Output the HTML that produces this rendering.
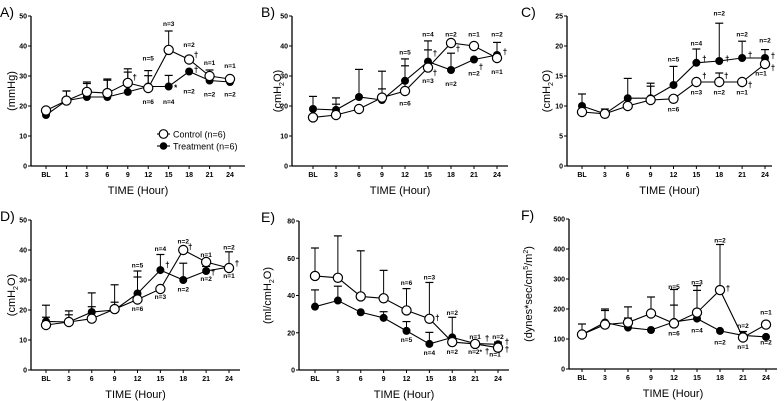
<!DOCTYPE html>
<html><head><meta charset="utf-8"><style>
html,body{margin:0;padding:0;background:#fff}
svg{display:block;font-family:"Liberation Sans",Arial,sans-serif}
</style></head><body>
<svg id="chart" width="784" height="401" viewBox="0 0 784 401" xmlns="http://www.w3.org/2000/svg"></svg>
<script>
// ---- data ----
const catsA = ['BL','1','3','6','9','12','15','18','21','24'];
const cats = ['BL','3','6','9','12','15','18','21','24'];

const aCtl = [18.5,21.8,24.7,24.3,27.7,26,38.7,35.5,30,29];
const aTrt = [17,21.8,23,23,24.7,26.5,26.5,31.5,28.5,28];
const aCtlErr = [19,25,28,29,32.4,31.8,45,36.5,32,29.5];
const aTrtErr = [null,25,27.5,28.6,31.3,30.1,30.2,null,null,null];

const bCtl = [16.2,17,19,22.8,25,32.8,41,40,36];
const bTrt = [19,18.7,23,22,28.4,34.8,32,35.5,37];
const bCtlErr = [null,20.6,null,25.7,33.4,38.7,null,null,null];
const bTrtErr = [23.2,22.7,32.2,31.6,35.7,41.7,37.6,null,41.2];

const cCtl = [9,8.7,10,11,11.2,14,14,14,17];
const cTrt = [10,8.7,11.3,11.3,13.5,17.2,17.5,18,18];
const cCtlErr = [null,null,null,13.3,null,null,15.5,null,null];
const cTrtErr = [12,9.5,14.6,13.8,16.6,19.5,23.8,20.8,19.4];

const dCtl = [15,16,17.1,20.3,23.5,27,40,36,34];
const dTrt = [16.2,16,19.3,20,25.5,33.3,30,33,34.3];
const dCtlErr = [21.6,18.4,21.1,28.4,31,null,null,null,null];
const dTrtErr = [17.6,19.7,25.7,22.6,33,38.5,35.6,34.5,39.4];

const eCtl = [50.5,49.5,39.5,38.5,32,27.5,15,14,12];
const eTrt = [34,37.3,31,28,21,14,17.5,14.2,13.8];
const eCtlErr = [65.5,72,64,53.5,43.7,47,null,null,null];
const eTrtErr = [43,45,null,31.3,26,20.2,28.3,15.5,15];

const fCtl = [115,148,155,185,152,188,263,105,148];
const fTrt = [115,155,138,130,157,168,127,112,107];
const fCtlErr = [150,200,207,240,265,278,415,null,null];
const fTrtErr = [null,195,170,null,213,262,null,125,null];

const ticksA = [0,10,20,30,40,50];
const ticksC = [0,5,10,15,20,25];
const ticksE = [0,20,40,60,80];
const ticksF = [0,100,200,300,400,500];

// annotations: [index, value, text, dx]
const annA = [[6,47.5,'n=3',0],[7,40.5,'n=2',0],[8,34.5,'n=1',0],[9,33.5,'n=1',0],[5,36,'n=5',0],[5,21.5,'n=6',0],[6,21.5,'n=4',0],[7,25,'n=2',0],[8,24,'n=2',0],[9,24,'n=2',0],[4,29.5,'†',7],[7,37,'†',7],[7,32,'†',7],[6,26,'*',7]];
const annB = [[5,44,'n=4',0],[6,44,'n=2',0],[7,44,'n=1',0],[8,44,'n=2',0],[4,38,'n=5',0],[4,21,'n=6',0],[5,28.5,'n=3',0],[6,27.5,'n=2',0],[7,31,'n=2',0],[8,31.5,'n=1',0],[5,37.5,'†',7],[5,31,'†',7],[6,39,'†',7],[7,33,'†',7],[8,38,'†',8]];
const annC = [[6,25.5,'n=2',0],[7,22,'n=2',0],[8,21,'n=2',0],[5,20.5,'n=4',0],[4,17.8,'n=5',0],[4,9.5,'n=6',0],[5,12.3,'n=3',0],[6,12.3,'n=2',0],[7,12.3,'n=1',0],[8,15.5,'n=1',-4],[5,17.8,'†',8],[5,15,'†',8],[6,17.8,'†',8],[6,15,'†',7],[7,18.5,'†',8],[7,13.5,'†',8],[8,18.3,'†',8],[8,16.3,'†',8]];
const annD = [[6,43,'n=2',0],[7,38.5,'n=1',0],[8,41,'n=2',0],[5,40.5,'n=4',0],[4,35,'n=5',0],[4,20.5,'n=6',0],[5,24.5,'n=3',0],[6,27,'n=2',0],[7,30.5,'n=2',0],[8,31.5,'n=1',0],[5,35,'†',7],[6,41,'†',7],[7,32.5,'†',7],[8,35.5,'†',8]];
const annE = [[4,47,'n=6',0],[5,50,'n=3',0],[6,31,'n=2',0],[7,18,'n=1',0],[8,18,'n=2',0],[4,16.5,'n=5',0],[5,9.5,'n=4',0],[6,10,'n=2',0],[7,10,'n=2*',0],[8,8.5,'n=1',-3],[5,28,'†',8],[7,17,'†',12],[7,10,'†',12],[8,15,'†',9],[8,11,'†',9]];
const annF = [[4,275,'n=5',0],[5,290,'n=3',0],[6,430,'n=2',0],[7,145,'n=2',0],[8,190,'n=1',0],[4,120,'n=6',0],[5,130,'n=4',0],[6,90,'n=2',0],[7,75,'n=1',0],[8,90,'n=2',0],[6,268,'†',8]];

const NS='http://www.w3.org/2000/svg';
const svg=document.getElementById('chart');
function mk(tag,attrs,parent){const e=document.createElementNS(NS,tag);for(const k in attrs)e.setAttribute(k,attrs[k]);(parent||svg).appendChild(e);return e;}

function panel(o){
  const g=mk('g',{});
  
  
  const ymax=o.ticks[o.ticks.length-1];
  const ys=v=>o.bottom-(v/ymax)*(o.bottom-o.top);
  const n=o.cats.length;
  const xs=i=>o.x0+i*(o.x1-o.x0)/(n-1);
  // axes
  const ya=mk('line',{x1:o.ax,y1:o.top,x2:o.ax,y2:o.bottom,stroke:'#000','stroke-width':1.3},g);
  
  
  const xa=mk('line',{x1:o.ax,y1:o.bottom,x2:o.axEnd,y2:o.bottom,stroke:'#000','stroke-width':1.3},g);
  
  
  o.ticks.forEach(t=>{
    mk('line',{x1:o.ax-3,y1:ys(t),x2:o.ax,y2:ys(t),stroke:'#000','stroke-width':1},g);
    const tl=mk('text',{x:o.ax-4,y:ys(t)+2.5,'font-size':7,'font-weight':'bold','text-anchor':'end'},g);
    tl.textContent=t;
    
    
  });
  o.cats.forEach((c,i)=>{
    mk('line',{x1:xs(i),y1:o.bottom,x2:xs(i),y2:o.bottom+3,stroke:'#000','stroke-width':1},g);
    const tl=mk('text',{x:xs(i),y:o.bottom+11,'font-size':7,'font-weight':'bold','text-anchor':'middle'},g);
    tl.textContent=c;
    
    
  });
  const xt=mk('text',{x:(o.ax+o.axEnd)/2,y:o.bottom+28,'font-size':11,'text-anchor':'middle'},g);
  xt.textContent='TIME (Hour)';
  
  
  const yt=mk('text',{x:0,y:0,'font-size':11,'text-anchor':'middle',transform:`translate(${o.ylx},${(o.top+o.bottom)/2}) rotate(-90)`},g);
  yt.innerHTML=o.ylab;
  
  
  const pl=mk('text',{x:o.lx,y:o.ly,'font-size':14},g);
  pl.textContent=o.letter+')';
  
  
  // error bars
  [[o.ctl,o.ce],[o.trt,o.te]].forEach(([v,e])=>{
    e.forEach((t,i)=>{ if(t==null) return;
      mk('line',{x1:xs(i),y1:ys(v[i]),x2:xs(i),y2:ys(t),stroke:'#000','stroke-width':1},g);
      const cap=mk('line',{x1:xs(i)-4,y1:ys(t),x2:xs(i)+4,y2:ys(t),stroke:'#000','stroke-width':1.2},g);
      
      
    });
  });
  // lines
  const tp=mk('polyline',{points:o.trt.map((v,i)=>xs(i)+','+ys(v)).join(' '),fill:'none',stroke:'#000','stroke-width':1.1},g);
  
  
  const cp=mk('polyline',{points:o.ctl.map((v,i)=>xs(i)+','+ys(v)).join(' '),fill:'none',stroke:'#000','stroke-width':1.1},g);
  
  
  o.trt.forEach((v,i)=>{
    const c=mk('circle',{cx:xs(i),cy:ys(v),r:4,fill:'#000'},g);
    
    
  });
  o.ctl.forEach((v,i)=>{
    const c=mk('circle',{cx:xs(i),cy:ys(v),r:4.6,fill:'#fff',stroke:'#000','stroke-width':1.2},g);
    
    
  });
  o.ann.forEach(([i,v,t,dx])=>{
    const a=mk('text',{x:xs(i)+dx,y:ys(v)+2.5,'font-size':t.length>1?6.5:8,'font-weight':'bold','text-anchor':'middle'},g);
    a.textContent=t;
    
    
  });
}

const sub='(cmH<tspan font-size="7" dy="3">2</tspan><tspan dy="-3">O)</tspan>';
panel({letter:'A',cats:catsA,ticks:ticksA,ax:31,axEnd:245,top:16,bottom:166,x0:46,x1:230,ylx:15,lx:0,ly:17,ylab:'(mmHg)',ctl:aCtl,trt:aTrt,ce:aCtlErr,te:aTrtErr,ann:annA});
panel({letter:'B',cats:cats,ticks:ticksA,ax:292,axEnd:508,top:16,bottom:166,x0:313,x1:497,ylx:281,lx:261,ly:17,ylab:sub,ctl:bCtl,trt:bTrt,ce:bCtlErr,te:bTrtErr,ann:annB});
panel({letter:'C',cats:cats,ticks:ticksC,ax:567,axEnd:772,top:16,bottom:166,x0:582,x1:765,ylx:550,lx:521,ly:17,ylab:sub,ctl:cCtl,trt:cTrt,ce:cCtlErr,te:cTrtErr,ann:annC});
panel({letter:'D',cats:cats,ticks:ticksA,ax:31,axEnd:240,top:220,bottom:370,x0:46,x1:229,ylx:15,lx:0,ly:221,ylab:sub,ctl:dCtl,trt:dTrt,ce:dCtlErr,te:dTrtErr,ann:annD});
panel({letter:'E',cats:cats,ticks:ticksE,ax:299,axEnd:509,top:221,bottom:370,x0:315,x1:498,ylx:271,lx:261,ly:222,ylab:'(ml/cmH<tspan font-size="7" dy="3">2</tspan><tspan dy="-3">O)</tspan>',ctl:eCtl,trt:eTrt,ce:eCtlErr,te:eTrtErr,ann:annE});
panel({letter:'F',cats:cats,ticks:ticksF,ax:569,axEnd:777,top:219,bottom:369,x0:582,x1:766,ylx:532,lx:521,ly:220,ylab:'(dynes*sec/cm<tspan font-size="7" dy="-4">5</tspan><tspan dy="4">/m</tspan><tspan font-size="7" dy="-4">2</tspan><tspan dy="4">)</tspan>',ctl:fCtl,trt:fTrt,ce:fCtlErr,te:fTrtErr,ann:annF});

// legend
const lg=mk('g',{});


mk('line',{x1:157,y1:134,x2:170,y2:134,stroke:'#000','stroke-width':1.1},lg);
mk('circle',{cx:163.5,cy:134,r:4.3,fill:'#fff',stroke:'#000','stroke-width':1.2},lg);
const l1=mk('text',{x:173,y:137.5,'font-size':9},lg);l1.textContent='Control (n=6)';


mk('line',{x1:157,y1:146,x2:170,y2:146,stroke:'#000','stroke-width':1.1},lg);
mk('circle',{cx:163.5,cy:146,r:3.8,fill:'#000'},lg);
const l2=mk('text',{x:173,y:149.5,'font-size':9},lg);l2.textContent='Treatment (n=6)';


</script>
</body></html>
